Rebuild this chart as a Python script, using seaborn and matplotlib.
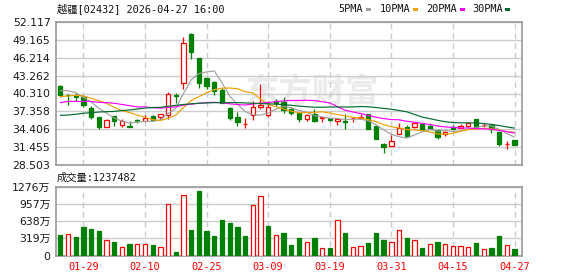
import numpy as np
import pandas as pd
import matplotlib
matplotlib.use("Agg")
import matplotlib.pyplot as plt
import seaborn as sns
from matplotlib.patches import Rectangle

# ---------------- data ----------------
opens = [41.55, 40.12, 39.90, 39.68, 37.91, 36.43, 34.83, 36.54, 35.05, 34.99,
         35.93, 35.71, 36.54, 36.48, 36.70, 40.06, 41.99, 50.14, 46.12, 42.81,
         42.21, 40.89, 37.91, 36.48, 35.22, 36.70, 38.14, 36.70, 38.99, 38.91,
         37.69, 37.03, 36.15, 36.92, 36.26, 36.26, 35.82, 35.77, 36.21, 36.32,
         36.87, 34.94, 31.91, 31.58, 33.62, 34.72, 34.83, 35.27, 34.94, 34.23,
         33.62, 34.72, 34.67, 34.94, 36.04, 35.05, 35.16, 33.95, 31.91, 32.63]
closes = [39.98, 40.06, 39.68, 38.36, 36.48, 34.83, 35.93, 35.71, 35.82, 34.83,
          35.82, 36.26, 35.93, 36.87, 40.23, 39.90, 48.59, 47.22, 42.10, 41.55,
          40.67, 38.80, 36.26, 35.60, 35.33, 38.03, 38.47, 38.03, 38.69, 37.58,
          37.03, 36.15, 36.70, 35.82, 36.48, 35.88, 36.04, 35.66, 36.32, 36.43,
          34.50, 32.85, 31.53, 32.46, 34.56, 33.34, 35.38, 34.28, 34.39, 33.07,
          33.95, 34.39, 34.94, 35.38, 34.83, 35.16, 34.50, 31.97, 32.02, 31.86]
highs = [41.66, 40.23, 40.34, 40.01, 38.25, 36.43, 36.15, 36.65, 36.15, 35.71,
         36.04, 36.70, 36.76, 36.87, 40.56, 40.45, 49.69, 50.25, 46.12, 42.81,
         42.37, 41.22, 38.03, 37.25, 36.26, 39.07, 41.88, 39.07, 39.46, 39.68,
         38.03, 37.25, 36.92, 37.69, 36.48, 36.26, 36.04, 36.92, 36.48, 36.92,
         36.87, 34.94, 32.19, 33.40, 35.49, 35.05, 35.38, 35.27, 35.49, 34.39,
         34.06, 35.05, 35.27, 35.60, 36.04, 35.49, 35.27, 34.06, 32.52, 32.63]
lows = [39.68, 38.39, 39.07, 38.03, 36.04, 34.39, 34.72, 34.94, 34.83, 34.83,
        35.49, 35.71, 35.82, 36.04, 36.15, 38.69, 41.11, 45.95, 41.27, 41.05,
        40.01, 38.69, 35.93, 34.94, 34.61, 35.93, 37.69, 36.48, 38.25, 37.03,
        36.70, 35.66, 35.82, 35.66, 35.55, 35.82, 35.05, 34.39, 35.60, 36.04,
        34.50, 32.85, 30.54, 31.58, 33.62, 33.07, 34.56, 34.28, 34.39, 32.85,
        33.29, 34.28, 34.67, 34.83, 34.72, 34.83, 33.73, 31.64, 31.20, 31.86]
prev_close_before = 41.80
volumes = [373, 404, 336, 523, 485, 448, 292, 243, 162, 205,
           205, 205, 187, 162, 964, 56, 1132, 467, 1194, 448,
           355, 653, 597, 523, 355, 945, 1113, 541, 386, 411,
           202, 317, 255, 317, 143, 131, 666, 411, 162, 180,
           224, 411, 292, 255, 479, 317, 292, 149, 218, 243,
           218, 180, 180, 162, 224, 124, 149, 355, 199, 124]   # 万
ma5 = [40.78, 40.78, 40.45, 39.68, 38.92, 37.87, 37.06, 36.26, 35.75, 35.42,
       35.62, 35.69, 35.73, 35.94, 37.02, 37.84, 40.30, 42.56, 43.61, 43.87,
       44.03, 42.07, 39.88, 38.58, 37.33, 36.80, 36.74, 37.09, 37.71, 38.16,
       37.96, 37.50, 37.23, 36.66, 36.44, 36.21, 36.18, 35.98, 36.08, 36.07,
       35.79, 35.15, 34.33, 33.55, 33.18, 32.95, 33.45, 34.00, 34.39, 34.09,
       34.21, 34.02, 34.15, 34.35, 34.70, 34.94, 34.96, 34.37, 33.70, 33.10]
ma10 = [39.79, 39.90, 40.01, 39.90, 39.51, 39.13, 38.69, 38.03, 37.47, 37.17,
        36.75, 36.38, 36.00, 35.85, 36.22, 36.73, 38.00, 39.15, 39.78, 40.45,
        40.94, 41.19, 41.22, 41.10, 40.60, 40.42, 39.41, 38.49, 38.15, 37.75,
        37.38, 37.12, 37.16, 37.19, 37.30, 37.09, 36.84, 36.61, 36.37, 36.26,
        36.00, 35.67, 35.16, 34.82, 34.63, 34.37, 34.30, 34.17, 33.97, 33.64,
        33.58, 33.74, 34.08, 34.37, 34.40, 34.58, 34.49, 34.26, 34.03, 33.90]
ma20 = [38.80, 39.00, 39.00, 39.00, 39.00, 38.85, 38.80, 38.70, 38.50, 38.30,
        38.10, 38.10, 37.95, 37.90, 38.00, 38.10, 38.40, 38.55, 38.70, 38.81,
        38.85, 38.79, 38.61, 38.48, 38.41, 38.58, 38.71, 38.82, 38.97, 39.10,
        39.16, 39.16, 39.19, 39.15, 38.95, 38.76, 38.13, 37.55, 37.26, 37.01,
        36.69, 36.40, 36.16, 36.01, 35.97, 35.73, 35.57, 35.39, 35.17, 34.95,
        34.79, 34.71, 34.62, 34.60, 34.52, 34.48, 34.40, 34.22, 34.00, 33.77]
ma30 = [36.70, 36.76, 36.87, 37.05, 37.14, 37.25, 37.31, 37.35, 37.50, 37.58,
        37.75, 37.90, 38.00, 38.03, 38.20, 38.35, 38.50, 38.60, 38.70, 38.75,
        38.80, 38.80, 38.80, 38.80, 38.75, 38.70, 38.65, 38.60, 38.55, 38.46,
        38.36, 38.23, 38.13, 38.05, 38.04, 38.08, 38.09, 38.08, 38.10, 38.16,
        38.11, 38.00, 37.85, 37.71, 37.51, 37.29, 36.85, 36.42, 36.16, 35.88,
        35.65, 35.51, 35.47, 35.46, 35.45, 35.35, 35.21, 35.02, 34.79, 34.60]
tick_idx = [3, 11, 19, 27, 35, 43, 51, 59]
tick_labels = ["01-29", "02-10", "02-25", "03-09", "03-19", "03-31", "04-15", "04-27"]
price_ticks = [28.503, 31.455, 34.406, 37.358, 40.310, 43.262, 46.214, 49.165, 52.117]
vol_ticks = [0, 319, 638, 957, 1276]
vol_tick_labels = ["0", "319万", "638万", "957万", "1276万"]
title_text = "越疆[02432] 2026-04-27 16:00"
vol_title = "成交量:1237482"
legend_names = ["5PMA", "10PMA", "20PMA", "30PMA"]
ma_colors = ["#a0a0a0", "#f0a000", "#ff00ff", "#006a30"]

RED, GREEN = "#ff0000", "#008000"

# ---------------- figure ----------------
sns.set_style("white")
plt.rcParams["font.family"] = ["DejaVu Sans", "Noto Sans CJK SC"]
W, H = 578, 276
fig = plt.figure(figsize=(W / 100, H / 100), dpi=100)


def rect(l, t, r, b):
    return [l / W, 1 - b / H, (r - l) / W, (b - t) / H]


ax = fig.add_axes(rect(56, 22, 522, 165))
axv = fig.add_axes(rect(56, 187, 522, 255.5))

n = len(closes)
idx = np.arange(n)
df = pd.DataFrame({"i": idx, "open": opens, "close": closes, "high": highs,
                   "low": lows, "vol": volumes,
                   "MA5": ma5, "MA10": ma10, "MA20": ma20, "MA30": ma30})
prev = [prev_close_before] + closes[:-1]
df["vol_up"] = [c > p for c, p in zip(closes, prev)]

bw = 0.56
for r in df.itertuples():
    if r.close > r.open:
        up = True
    elif r.close < r.open:
        up = False
    else:
        up = r.vol_up
    col = RED if up else GREEN
    ax.vlines(r.i, r.low, r.high, color=col, lw=0.9, zorder=3)
    lo, hi = min(r.open, r.close), max(r.open, r.close)
    ax.add_patch(Rectangle((r.i - bw / 2, lo), bw, hi - lo,
                           facecolor="white" if up else GREEN,
                           edgecolor=col, lw=0.9, zorder=4))

ma_long = df.melt(id_vars="i", value_vars=["MA5", "MA10", "MA20", "MA30"],
                  var_name="ma", value_name="val")
sns.lineplot(data=ma_long, x="i", y="val", hue="ma",
             palette=dict(zip(["MA5", "MA10", "MA20", "MA30"], ma_colors)),
             lw=0.85, ax=ax, legend=False, zorder=5)

for r in df.itertuples():
    col = RED if r.vol_up else GREEN
    axv.add_patch(Rectangle((r.i - bw / 2, 0), bw, r.vol,
                            facecolor="white" if r.vol_up else GREEN,
                            edgecolor=col, lw=0.9, zorder=3))

xlim = (-0.56, n - 1 + 0.97)
for a, yl, yt in [(ax, (28.503, 52.117), price_ticks), (axv, (0, 1276), vol_ticks)]:
    a.set_xlim(*xlim)
    a.set_ylim(*yl)
    a.set_yticks(yt)
    a.set_xlabel("")
    a.set_ylabel("")
    for y in yt:
        a.axhline(y, color="#cccccc", lw=1, zorder=1)
    for x in tick_idx:
        a.axvline(x, color="#cccccc", lw=1, ls=(0, (4, 3)), zorder=1)
    for s in a.spines.values():
        s.set_color("#999999")
        s.set_linewidth(1.2)
        s.set_visible(True)
    a.tick_params(axis="y", length=3, width=1, color="#999999", pad=1,
                  labelsize=7.8, labelcolor="#1a1a1a")

ax.set_yticklabels([f"{v:.3f}" for v in price_ticks])
ax.set_xticks([])
axv.set_yticklabels(vol_tick_labels)
axv.set_xticks(tick_idx)
axv.set_xticklabels(tick_labels, family=["DejaVu Sans Mono"], fontsize=7.4, color=RED)
axv.tick_params(axis="x", length=0, pad=5)

# watermark
ax.text(0.55, 0.50, "东方财富", transform=ax.transAxes, ha="center", va="center",
        fontsize=24, color="#ebebeb", fontweight="bold",
        family=["Noto Sans CJK SC"], zorder=0)

# title / legend / volume label
mono = ["DejaVu Sans Mono", "Noto Sans CJK SC"]
fig.text(57 / W, 1 - 9 / H, title_text, family=mono, fontsize=7.4, va="center", color="#111111")
fig.text(57 / W, 1 - 177.5 / H, vol_title, family=mono, fontsize=7.4, va="center", color="#111111")
leg_x = [338, 380, 426, 472]
mk_x = [366, 413, 460, 505]
for name, tx, mx, c in zip(legend_names, leg_x, mk_x, ma_colors):
    fig.text(tx / W, 1 - 9 / H, name, family=mono, fontsize=7.4, va="center", color="#111111")
    fig.patches.append(Rectangle((mx / W, 1 - 11 / H), 5 / W, 3 / H,
                                 transform=fig.transFigure, facecolor=c,
                                 edgecolor="none", figure=fig))

fig.savefig("out.png", dpi=100)
